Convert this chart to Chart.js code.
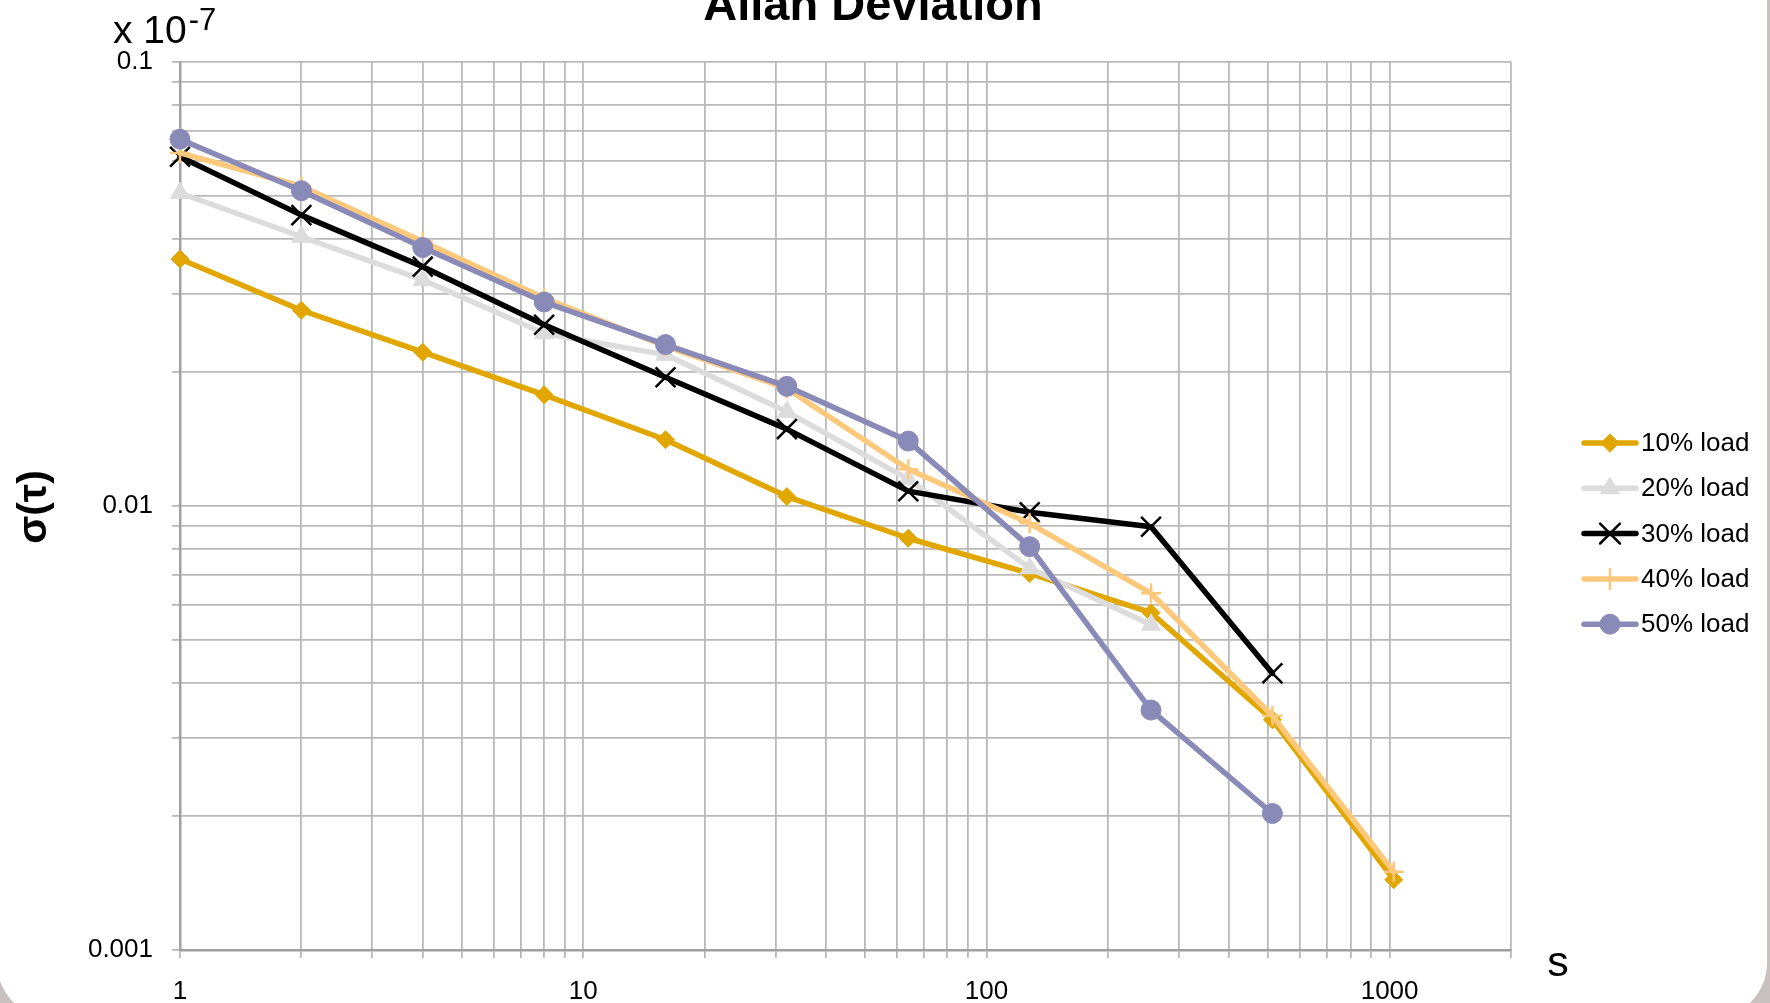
<!DOCTYPE html>
<html>
<head>
<title>Allan Deviation</title>
<style>
  body { margin: 0; background: #c9c1c0; overflow: hidden; }
  #box { position: absolute; left: -3px; top: -60px; width: 1770px; height: 1078px; background: #fff; border-radius: 55px; }
  #wrap { position: absolute; left: 0; top: 0; width: 1770px; height: 1003px; }
</style>
</head>
<body>
<div id="box"></div>
<div id="wrap"><canvas id="myChart" width="1770" height="1003"></canvas></div>

<script src="https://cdn.jsdelivr.net/npm/chart.js"></script>
<script>
// tau (s) and sigma(tau) x 1e-7
const taus   = [1, 2, 4, 8, 16, 32, 64, 128, 256, 512, 1024];
const load10 = [0.0360, 0.0276, 0.0222, 0.0178, 0.0141, 0.0105, 0.00846, 0.00705, 0.00575, 0.0033, 0.00144];
const load20 = [0.0507, 0.0404, 0.0323, 0.0245, 0.0219, 0.0163, 0.0115, 0.00724, 0.0054];
const load30 = [0.0612, 0.0452, 0.0346, 0.0256, 0.0195, 0.0149, 0.0108, 0.00968, 0.00898, 0.0042];
const load40 = [0.0624, 0.0525, 0.0394, 0.0294, 0.0229, 0.0184, 0.0121, 0.00914, 0.00636, 0.00337, 0.0015];
const load50 = [0.0670, 0.0513, 0.0382, 0.0288, 0.0231, 0.0186, 0.0140, 0.0081, 0.00347, 0.00203];
const seriesNames = ['10% load', '20% load', '30% load', '40% load', '50% load'];

const xTicks = [1, 2, 3, 4, 5, 6, 7, 8, 9, 10, 20, 30, 40, 50, 60, 70, 80, 90,
                100, 200, 300, 400, 500, 600, 700, 800, 900, 1000, 2000];
const yTicks = [0.001, 0.002, 0.003, 0.004, 0.005, 0.006, 0.007, 0.008, 0.009,
                0.01, 0.02, 0.03, 0.04, 0.05, 0.06, 0.07, 0.08, 0.09, 0.1];
const xLabels = {1: '1', 10: '10', 100: '100', 1000: '1000'};
const yLabels = {0.1: '0.1', 0.01: '0.01', 0.001: '0.001'};

const FONT = '"Liberation Sans", Arial, sans-serif';

function pts(vals) {
  return vals.map((v, i) => ({x: taus[i], y: v}));
}

function series(label, vals, color, style, radius, order, ptBorder) {
  return {
    label: label,
    data: pts(vals),
    borderColor: color,
    backgroundColor: color,
    borderWidth: 5.5,
    pointStyle: style,
    pointRadius: radius,
    pointHoverRadius: radius,
    pointBackgroundColor: color,
    pointBorderColor: color,
    pointBorderWidth: ptBorder,
    order: order,
    clip: false,
    tension: 0
  };
}

const sideLegend = {
  id: 'sideLegend',
  afterDraw(chart) {
    const ctx = chart.ctx;
    chart.data.datasets.forEach((ds, i) => {
      const y = 443 + i * 45.3;
      ctx.save();
      ctx.strokeStyle = ds.borderColor;
      ctx.lineWidth = ds.borderWidth;
      ctx.lineCap = 'round';
      ctx.beginPath();
      ctx.moveTo(1584, y);
      ctx.lineTo(1636, y);
      ctx.stroke();
      ctx.fillStyle = ds.pointBackgroundColor;
      ctx.strokeStyle = ds.pointBorderColor;
      ctx.lineWidth = ds.pointBorderWidth;
      Chart.helpers.drawPoint(ctx, {pointStyle: ds.pointStyle, radius: ds.pointRadius, rotation: 0, borderWidth: ds.pointBorderWidth}, 1610, y);
      ctx.fillStyle = '#000';
      ctx.font = '26px ' + FONT;
      ctx.textBaseline = 'middle';
      ctx.textAlign = 'left';
      ctx.fillText(ds.label, 1641, y + 1);
      ctx.restore();
    });
  }
};

const texts = {
  id: 'texts',
  afterDraw(chart) {
    const ctx = chart.ctx;
    ctx.save();
    ctx.fillStyle = '#000';
    // title, cut off at the top like the original
    ctx.font = 'bold 47px ' + FONT;
    ctx.textAlign = 'center';
    ctx.textBaseline = 'alphabetic';
    ctx.fillText('Allan Deviation', 873, 20);
    // exponent note
    ctx.textAlign = 'left';
    ctx.font = '39px ' + FONT;
    ctx.fillText('x 10', 113, 43);
    const w = ctx.measureText('x 10').width;
    ctx.font = '31px ' + FONT;
    ctx.fillText('-7', 113 + w + 2, 30);
    // x axis unit
    ctx.font = '43px ' + FONT;
    ctx.textAlign = 'center';
    ctx.fillText('s', 1558, 976);
    // y axis title
    ctx.translate(35, 507);
    ctx.rotate(-Math.PI / 2);
    ctx.font = 'bold 41px ' + FONT;
    ctx.textBaseline = 'middle';
    ctx.fillText('σ(τ)', 0, 0);
    ctx.restore();
  }
};

const gridColor = '#b9b9b9';

const config = {
  type: 'line',
  data: {
    datasets: [
      series(seriesNames[0], load10, '#e1a700', 'rectRot', 9, 5, 1),
      series(seriesNames[1], load20, '#dcdcdc', 'triangle', 11, 4, 1),
      series(seriesNames[2], load30, '#000000', 'crossRot', 14, 3, 2.5),
      series(seriesNames[3], load40, '#fcc97c', 'cross', 10, 2, 2.5),
      series(seriesNames[4], load50, '#8a8ab8', 'circle', 10, 1, 1)
    ]
  },
  options: {
    responsive: false,
    animation: false,
    devicePixelRatio: 1,
    layout: { padding: { top: 62, right: 259, bottom: 0, left: 0 } },
    elements: { line: { borderJoinStyle: 'round', borderCapStyle: 'round' } },
    plugins: { legend: { display: false }, title: { display: false }, tooltip: { enabled: false } },
    scales: {
      x: {
        type: 'logarithmic',
        min: 1,
        max: 2000,
        afterBuildTicks: (scale) => { scale.ticks = xTicks.map(v => ({value: v})); },
        afterFit: (scale) => { scale.height = 53; },
        grid: { color: gridColor, lineWidth: 1.8, tickLength: 8, drawTicks: true },
        border: { color: '#a0a0a0', width: 2.5 },
        ticks: {
          autoSkip: false,
          maxRotation: 0,
          padding: 18,
          color: '#000',
          font: { family: FONT, size: 26 },
          callback: (v) => xLabels[v] || ''
        }
      },
      y: {
        type: 'logarithmic',
        min: 0.001,
        max: 0.1,
        afterBuildTicks: (scale) => { scale.ticks = yTicks.map(v => ({value: v})); },
        afterFit: (scale) => { scale.width = 180; },
        grid: { color: gridColor, lineWidth: 1.8, tickLength: 8, drawTicks: true },
        border: { color: '#a0a0a0', width: 2.5 },
        ticks: {
          autoSkip: false,
          padding: 19,
          color: '#000',
          font: { family: FONT, size: 26 },
          callback: (v) => yLabels[v] || ''
        }
      }
    }
  },
  plugins: [sideLegend, texts]
};

const myChart = new Chart(document.getElementById('myChart'), config);
</script>
</body>
</html>
